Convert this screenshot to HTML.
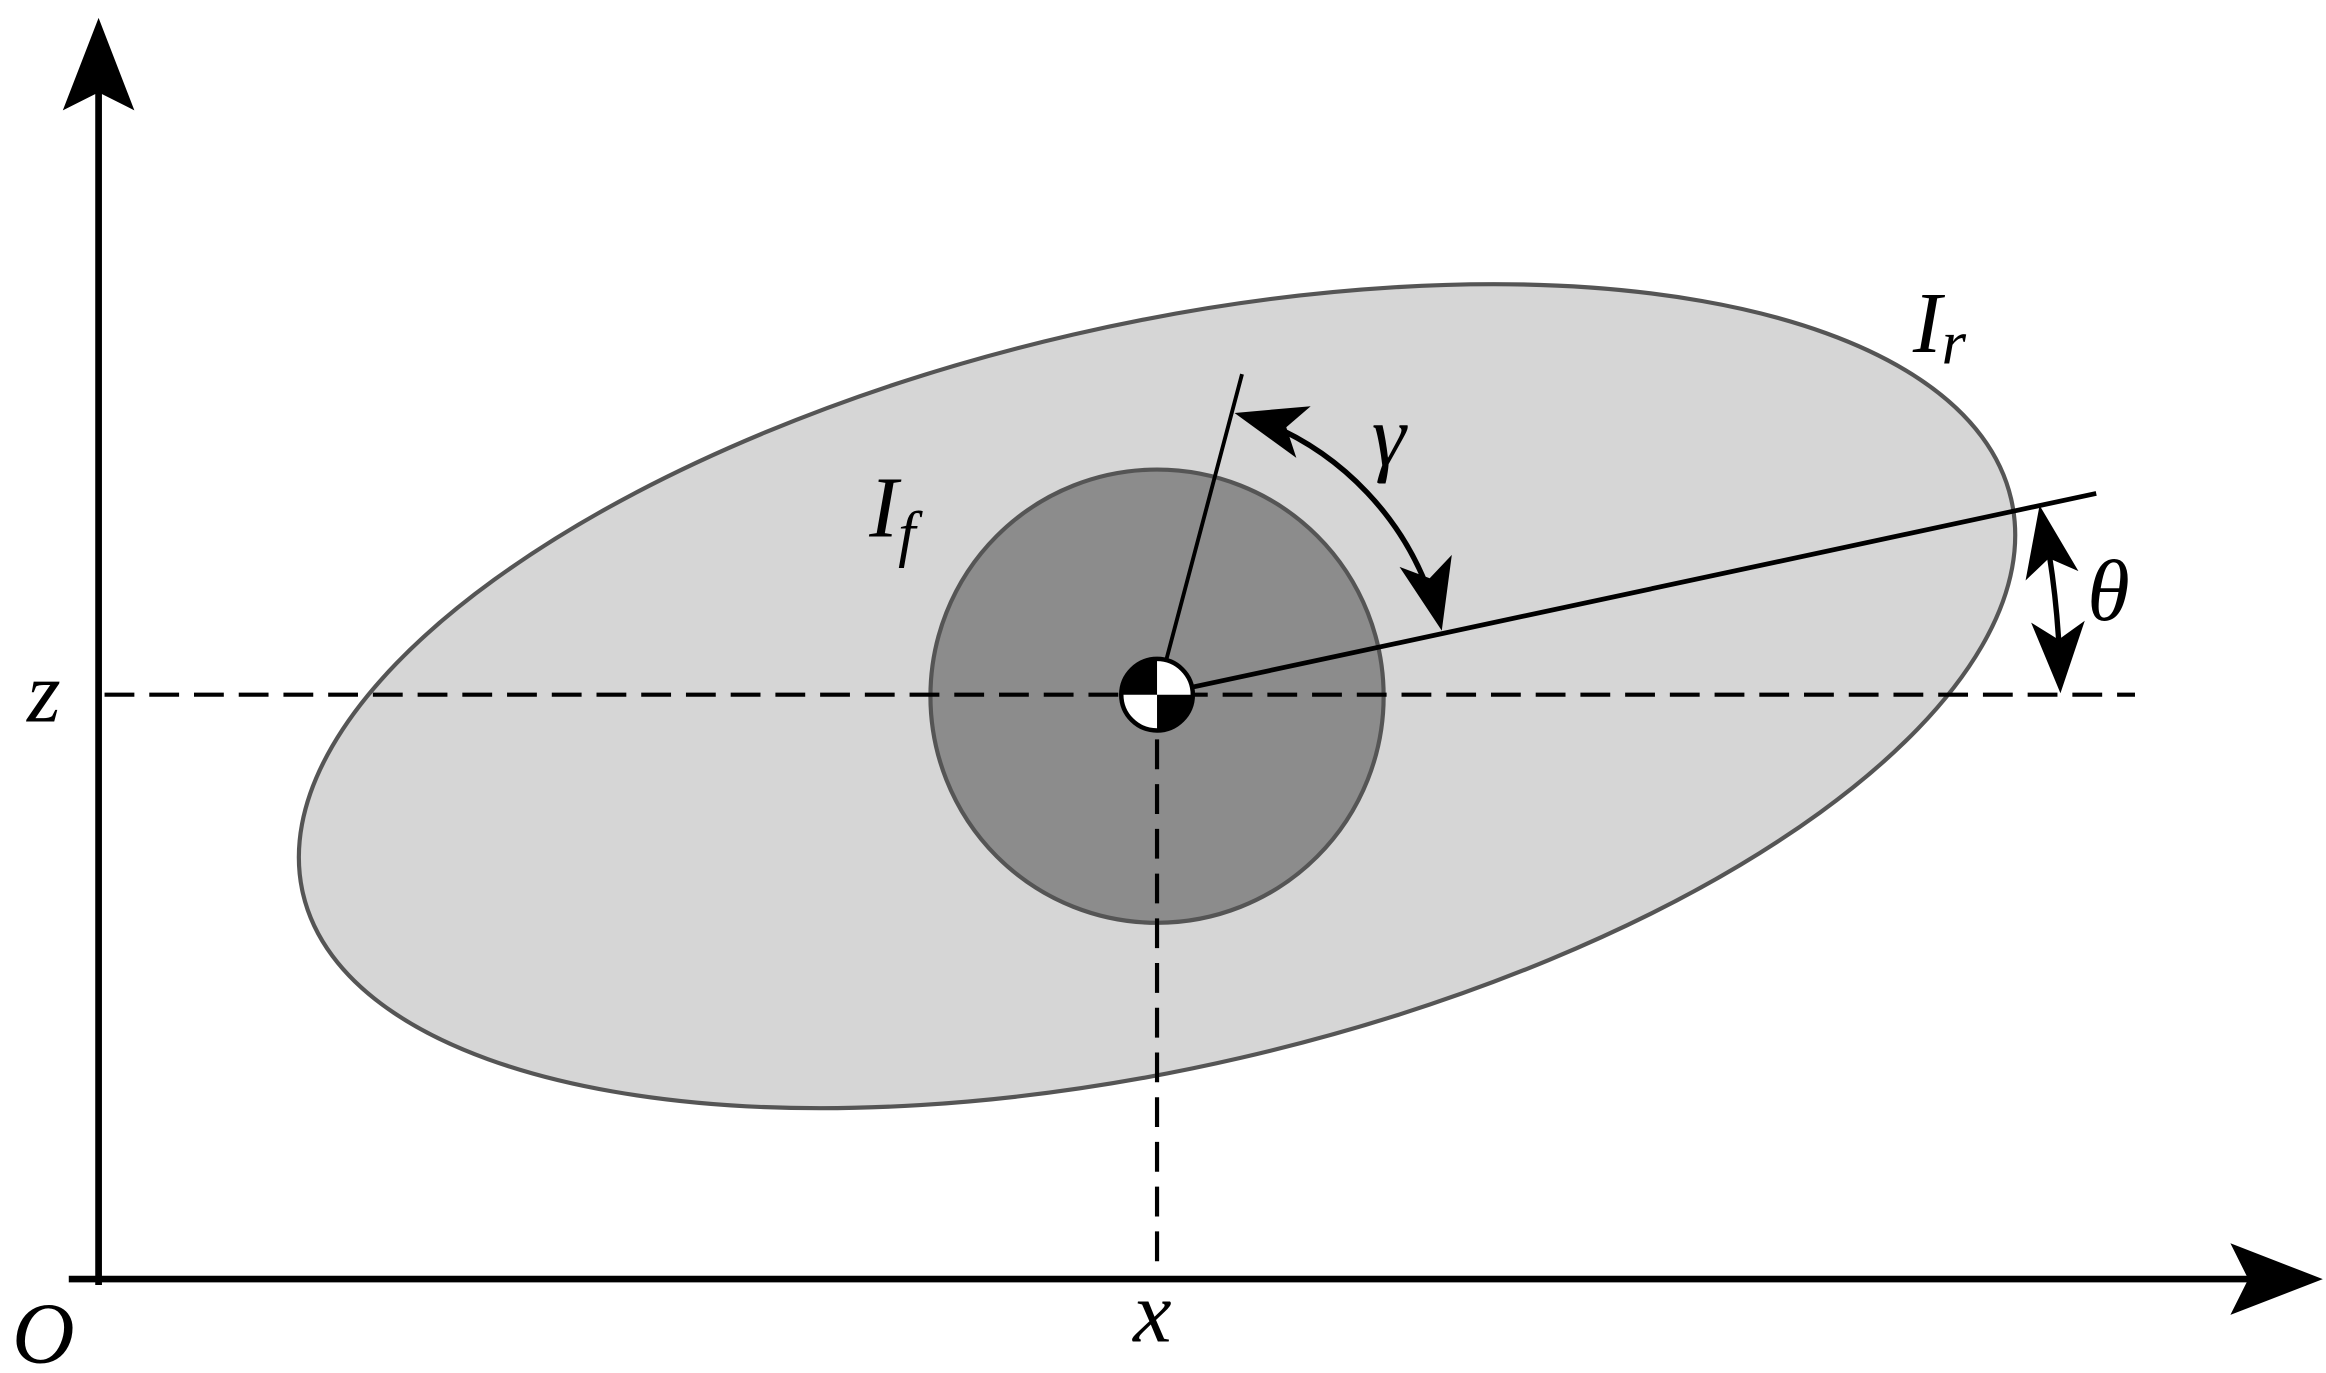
<!DOCTYPE html>
<html><head><meta charset="utf-8"><style>
html,body{margin:0;padding:0;background:#fff;}
svg{display:block;}
text{font-family:"Liberation Serif",serif;font-style:italic;fill:#000;}
</style></head><body>
<svg width="2326" height="1373" viewBox="0 0 1560 921" xmlns="http://www.w3.org/2000/svg">
<rect width="1560" height="921" fill="#fff"/>
<ellipse cx="776" cy="467" rx="588" ry="249" transform="rotate(-13 776 467)" fill="#d6d6d6" stroke="#555" stroke-width="2.8"/>
<circle cx="776" cy="467" r="152" fill="#8c8c8c" stroke="#555" stroke-width="2.8"/>
<line x1="70" y1="466" x2="1432" y2="466" stroke="#000" stroke-width="2.8" stroke-dasharray="20,10"/>
<line x1="776" y1="466" x2="776" y2="858" stroke="#000" stroke-width="2.8" stroke-dasharray="20,10"/>
<line x1="776" y1="466" x2="833" y2="251" stroke="#000" stroke-width="2.6"/>
<line x1="776" y1="466" x2="1406" y2="331" stroke="#000" stroke-width="3.2"/>
<path d="M842,281 A196,196 0 0,1 962,408" fill="none" stroke="#000" stroke-width="3.6"/>
<polygon points="0,0 -48,-18 -36,0 -48,18" fill="#000" transform="translate(828,277) rotate(-164.5)"/>
<polygon points="0,0 -48,-18 -36,0 -48,18" fill="#000" transform="translate(967,423) rotate(77)"/>
<path d="M1374.5,372 A607,607 0 0,1 1381,433" fill="none" stroke="#000" stroke-width="3.6"/>
<polygon points="0,0 -48,-18 -36,0 -48,18" fill="#000" transform="translate(1368,339) rotate(-100)"/>
<polygon points="0,0 -48,-18 -36,0 -48,18" fill="#000" transform="translate(1382,465) rotate(88)"/>
<circle cx="776" cy="466" r="24" fill="#fff" stroke="#000" stroke-width="3"/>
<path d="M776,466 L752,466 A24,24 0 0,1 776,442 Z" fill="#000"/>
<path d="M776,466 L800,466 A24,24 0 0,1 776,490 Z" fill="#000"/>
<line x1="66" y1="862" x2="66" y2="60" stroke="#000" stroke-width="4.5"/>
<polygon points="0,0 -62,-24 -50,0 -62,24" fill="#000" transform="translate(66,12) rotate(-90)"/>
<line x1="46" y1="858" x2="1510" y2="858" stroke="#000" stroke-width="4.5"/>
<polygon points="0,0 -62,-24 -50,0 -62,24" fill="#000" transform="translate(1558,858)"/>
<text x="1283" y="236" font-size="58">I<tspan font-size="42" dy="8">r</tspan></text>
<text x="583" y="360" font-size="58">I<tspan font-size="42" dy="12">f</tspan></text>
<text x="920" y="312" font-size="58">γ</text>
<text x="1400" y="416" font-size="58">θ</text>
<text x="18" y="484" font-size="58">z</text>
<text x="8" y="914" font-size="58">O</text>
<text x="760" y="900" font-size="58">x</text>
</svg>
</body></html>
